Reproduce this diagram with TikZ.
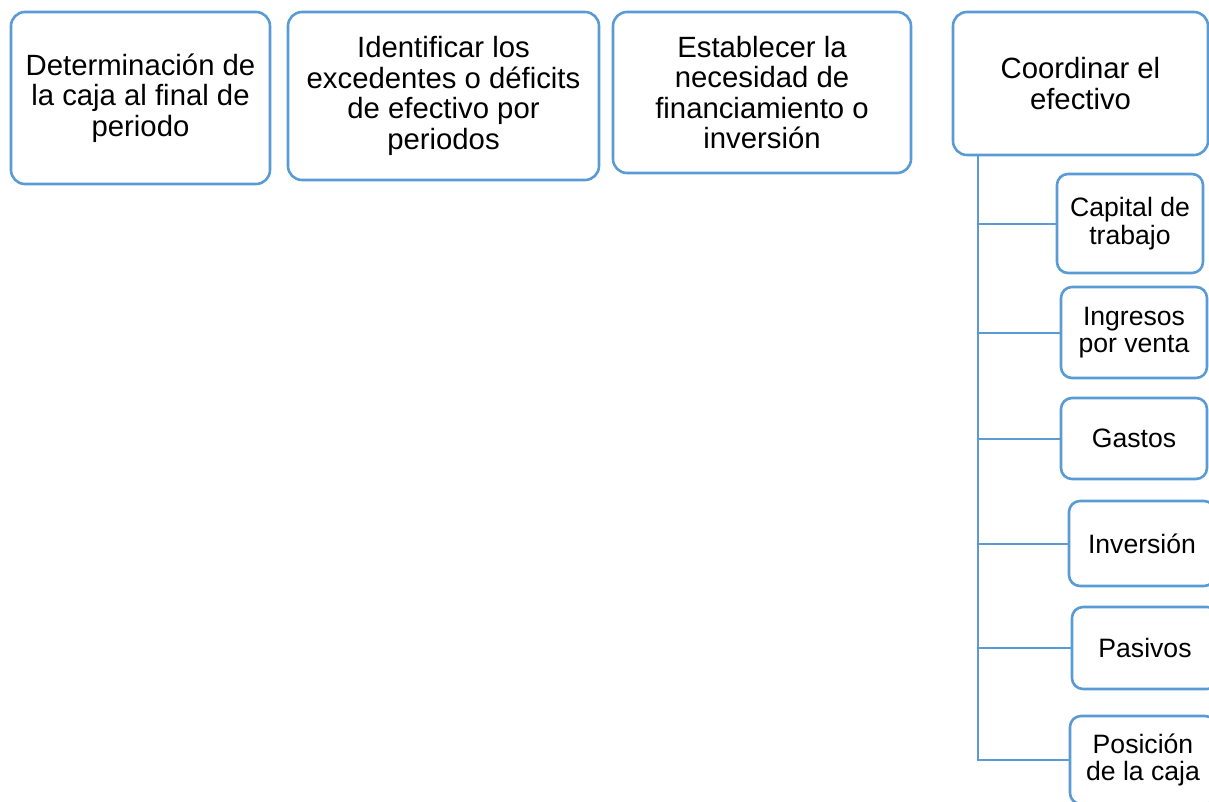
\documentclass[tikz,border=0pt]{standalone}
\usepackage{fontspec}
\setmainfont{Liberation Sans}
\definecolor{azul}{HTML}{5B9BD5}
\tikzset{
    caja/.style={draw=azul,line width=2.6pt,rounded corners=14pt,align=center,inner sep=2pt,font=\fontsize{29.3}{30.6}\selectfont},
    cajita/.style={draw=azul,line width=2.6pt,rounded corners=11pt,align=center,inner sep=2pt,minimum width=146pt,font=\fontsize{26.6}{27.5}\selectfont},
    rama/.style={draw=azul,line width=2pt}
}
\begin{document}
\begin{tikzpicture}[x=1pt,y=-1pt]
    \clip (0,0) rectangle (1209,801);
    \node[caja,minimum width=259pt,minimum height=172pt] (caja1) at (140.5,98) {Determinación de\\la caja al final de\\periodo};
    \node[caja,minimum width=311pt,minimum height=168pt] (caja2) at (443.5,96) {Identificar los\\excedentes o déficits\\de efectivo por\\periodos};
    \node[caja,minimum width=298pt,minimum height=161pt] (caja3) at (762,92.5) {Establecer la\\necesidad de\\financiamiento o\\inversión};
    \node[caja,minimum width=255pt,minimum height=143pt] (coord) at (1080.5,83.5) {Coordinar el\\efectivo};

    \node[cajita,minimum height=99pt] (capital) at (1130,223.5) {Capital de\\trabajo};
    \node[cajita,minimum height=91pt] (ingresos) at (1134,332.5) {Ingresos\\por venta};
    \node[cajita,minimum height=81pt] (gastos) at (1134,438.5) {Gastos};
    \node[cajita,minimum height=85pt] (inversion) at (1142,543.5) {Inversión};
    \node[cajita,minimum height=82pt] (pasivos) at (1145,648) {Pasivos};
    \node[cajita,minimum height=88pt] (posicion) at (1143,760) {Posición\\de la caja};

    \coordinate (tronco) at (978,0);
    \foreach \hijo in {capital,ingresos,gastos,inversion,pasivos,posicion}
        \draw[rama] (tronco |- coord.south) |- (\hijo.west);
\end{tikzpicture}
\end{document}
